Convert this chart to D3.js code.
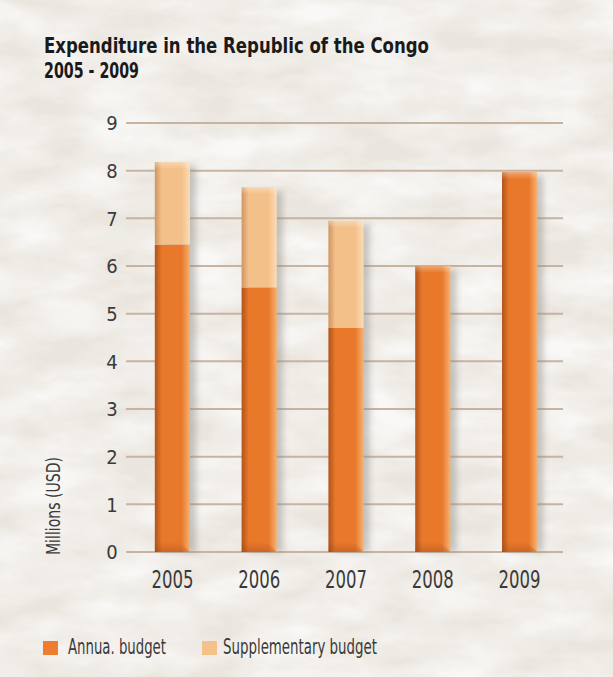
<!DOCTYPE html>
<html>
<head>
<meta charset="utf-8">
<script src="https://cdn.jsdelivr.net/npm/d3@7"></script>
<style>
  body { margin: 0; background: #ece8e2; }
  svg { display: block; }
  .tick-label { font-family: "Liberation Sans Narrow", "DejaVu Sans Condensed", sans-serif; fill: #3a3a3a; }
</style>
</head>
<body>
<div id="chart"></div>
<script>
// data
const years = ["2005", "2006", "2007", "2008", "2009"];
const annualBudget = [6.45, 5.55, 4.7, 6.0, 7.97];
const supplementaryBudget = [1.73, 2.1, 2.25, 0, 0];
const yTicks = [0, 1, 2, 3, 4, 5, 6, 7, 8, 9];
const seriesNames = ["Annua. budget", "Supplementary budget"];

const W = 613, H = 677;

const svg = d3.select("#chart").append("svg")
    .attr("width", W)
    .attr("height", H);

const defs = svg.append("defs");

// paper texture
const paper = defs.append("filter").attr("id", "paper")
    .attr("x", 0).attr("y", 0).attr("width", "100%").attr("height", "100%");
paper.append("feTurbulence")
    .attr("type", "fractalNoise")
    .attr("baseFrequency", "0.012 0.03")
    .attr("numOctaves", 5)
    .attr("seed", 7)
    .attr("result", "noise");
paper.append("feColorMatrix")
    .attr("in", "noise")
    .attr("type", "matrix")
    .attr("values", "0 0 0 0 1  0 0 0 0 1  0 0 0 0 1  0 0 0 -1.8 1.35");

// horizontal gradients for bar bodies
function barGradient(id, dark, mid, light) {
    const g = defs.append("linearGradient").attr("id", id)
        .attr("x1", 0).attr("x2", 1).attr("y1", 0).attr("y2", 0);
    g.append("stop").attr("offset", "0%").attr("stop-color", dark);
    g.append("stop").attr("offset", "20%").attr("stop-color", mid);
    g.append("stop").attr("offset", "76%").attr("stop-color", mid);
    g.append("stop").attr("offset", "100%").attr("stop-color", light);
}
barGradient("gradAnnual", "#b0531a", "#e8782a", "#f6b272");
barGradient("gradSupp", "#cf9461", "#f4c089", "#fadcb8");

const capGrad = defs.append("linearGradient").attr("id", "gradCap")
    .attr("x1", 0).attr("x2", 0).attr("y1", 0).attr("y2", 1);
capGrad.append("stop").attr("offset", "0%").attr("stop-color", "#fff").attr("stop-opacity", 0.35);
capGrad.append("stop").attr("offset", "100%").attr("stop-color", "#fff").attr("stop-opacity", 0);

const baseGrad = defs.append("linearGradient").attr("id", "gradBase")
    .attr("x1", 0).attr("x2", 0).attr("y1", 0).attr("y2", 1);
baseGrad.append("stop").attr("offset", "0%").attr("stop-color", "#8a3d10").attr("stop-opacity", 0);
baseGrad.append("stop").attr("offset", "100%").attr("stop-color", "#8a3d10").attr("stop-opacity", 0.3);

const shadow = defs.append("filter").attr("id", "shadow")
    .attr("x", "-50%").attr("y", "-10%").attr("width", "200%").attr("height", "120%");
shadow.append("feGaussianBlur").attr("stdDeviation", 3);

// background
svg.append("rect").attr("width", W).attr("height", H).attr("fill", "#eae5de");
svg.append("rect").attr("width", W).attr("height", H).attr("filter", "url(#paper)").attr("opacity", 0.75);

// scales
const x = d3.scaleBand()
    .domain(years)
    .range([129, 563])
    .paddingInner(0.595)
    .paddingOuter(0.2975);

const y = d3.scaleLinear()
    .domain([0, 9])
    .range([552, 123]);

// gridlines
svg.append("g").selectAll("line")
    .data(yTicks)
    .join("line")
    .attr("x1", 126)
    .attr("x2", 563)
    .attr("y1", d => y(d))
    .attr("y2", d => y(d))
    .attr("stroke", "#c6b3a2")
    .attr("stroke-width", 2);

// y tick labels
svg.append("g").selectAll("text")
    .data(yTicks)
    .join("text")
    .attr("class", "tick-label")
    .attr("x", 112)
    .attr("y", d => y(d))
    .attr("dy", "0.36em")
    .attr("text-anchor", "middle")
    .attr("font-size", 20)
    .text(d => d);

// y axis title
svg.append("text")
    .attr("class", "tick-label")
    .attr("transform", "translate(60,555) rotate(-90)")
    .attr("font-size", 20)
    .attr("textLength", 98)
    .attr("lengthAdjust", "spacingAndGlyphs")
    .text("Millions (USD)");

// stacked data
const stackData = years.map((yr, i) => ({
    year: yr,
    annual: annualBudget[i],
    supp: supplementaryBudget[i],
    total: annualBudget[i] + supplementaryBudget[i]
}));

const bars = svg.append("g");

// drop shadows
bars.selectAll(".bar-shadow")
    .data(stackData)
    .join("rect")
    .attr("class", "bar-shadow")
    .attr("x", d => x(d.year) + 6)
    .attr("y", d => y(d.total) + 4)
    .attr("width", x.bandwidth())
    .attr("height", d => y(0) - y(d.total) - 4)
    .attr("fill", "#8d8a86")
    .attr("opacity", 0.45)
    .attr("filter", "url(#shadow)");

// annual budget
bars.selectAll(".annual")
    .data(stackData)
    .join("rect")
    .attr("class", "annual")
    .attr("x", d => x(d.year))
    .attr("y", d => y(d.annual))
    .attr("width", x.bandwidth())
    .attr("height", d => y(0) - y(d.annual))
    .attr("fill", "url(#gradAnnual)");

// supplementary budget
bars.selectAll(".supp")
    .data(stackData.filter(d => d.supp > 0))
    .join("rect")
    .attr("class", "supp")
    .attr("x", d => x(d.year))
    .attr("y", d => y(d.total))
    .attr("width", x.bandwidth())
    .attr("height", d => y(d.annual) - y(d.total))
    .attr("fill", "url(#gradSupp)");

// top bevel
bars.selectAll(".cap")
    .data(stackData)
    .join("rect")
    .attr("class", "cap")
    .attr("x", d => x(d.year))
    .attr("y", d => y(d.total))
    .attr("width", x.bandwidth())
    .attr("height", 7)
    .attr("fill", "url(#gradCap)");

// bottom bevel
bars.selectAll(".base")
    .data(stackData)
    .join("path")
    .attr("class", "base")
    .attr("d", d => {
        const x0 = x(d.year), x1 = x0 + x.bandwidth(), yb = y(0);
        return `M${x0},${yb - 10}L${x1 - 10},${yb - 10}L${x1},${yb}L${x0},${yb}Z`;
    })
    .attr("fill", "url(#gradBase)");

// x labels
svg.append("g").selectAll("text")
    .data(years)
    .join("text")
    .attr("class", "tick-label")
    .attr("x", d => x(d) + x.bandwidth() / 2)
    .attr("y", 588)
    .attr("text-anchor", "middle")
    .attr("font-size", 24)
    .attr("textLength", 42)
    .attr("lengthAdjust", "spacingAndGlyphs")
    .text(d => d);

// title
const title = svg.append("text")
    .attr("font-family", "'Liberation Sans Narrow', 'DejaVu Sans Condensed', sans-serif")
    .attr("font-weight", "bold")
    .attr("font-size", 22)
    .attr("fill", "#1a1a1a");
title.append("tspan").attr("x", 44).attr("y", 53)
    .attr("textLength", 385).attr("lengthAdjust", "spacingAndGlyphs")
    .text("Expenditure in the Republic of the Congo");
title.append("tspan").attr("x", 44).attr("y", 78)
    .attr("textLength", 95).attr("lengthAdjust", "spacingAndGlyphs")
    .text("2005 - 2009");

// legend
const legendColors = ["#ef7d2f", "#f5c08a"];
const legendX = [43, 202];
const legendW = [98, 154];
const legend = svg.append("g").selectAll("g")
    .data(seriesNames)
    .join("g")
    .attr("transform", (d, i) => `translate(${legendX[i]},641)`);
legend.append("rect")
    .attr("width", 15)
    .attr("height", 14)
    .attr("fill", (d, i) => legendColors[i]);
legend.append("text")
    .attr("class", "tick-label")
    .attr("x", (d, i) => i === 0 ? 25 : 21)
    .attr("y", 13)
    .attr("font-size", 21)
    .attr("textLength", (d, i) => legendW[i])
    .attr("lengthAdjust", "spacingAndGlyphs")
    .text(d => d);
</script>
</body>
</html>
